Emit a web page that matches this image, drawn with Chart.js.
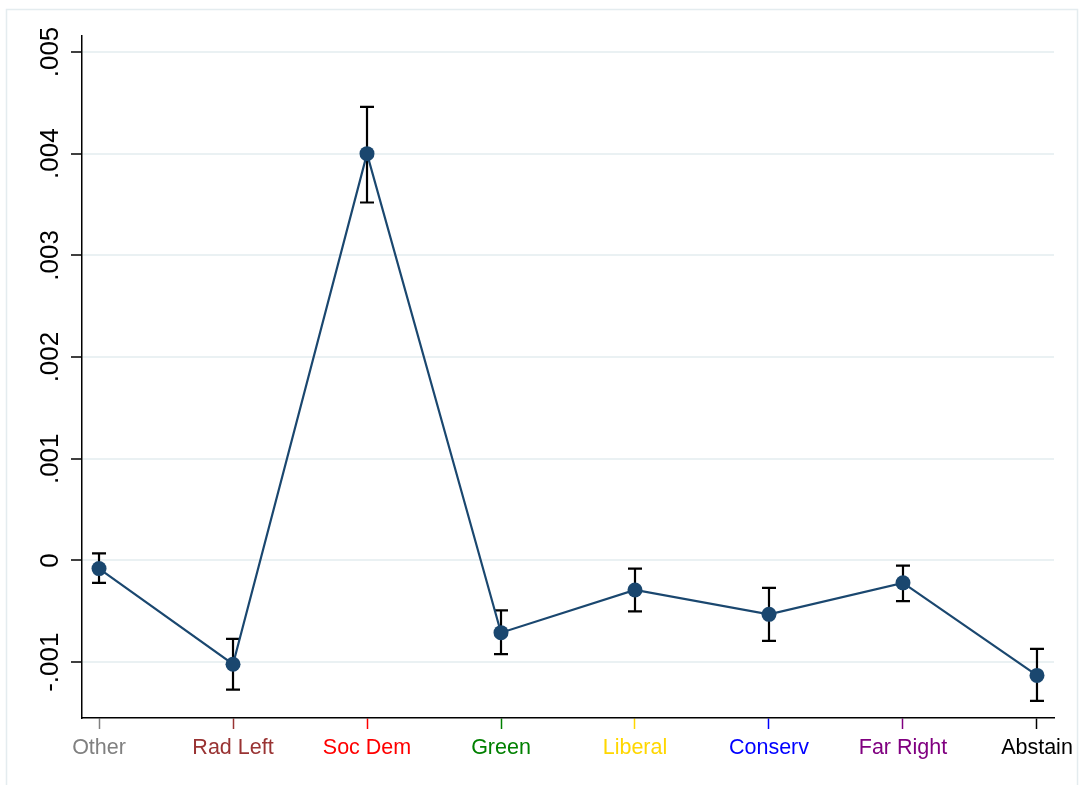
<!DOCTYPE html>
<html>
<head>
<meta charset="utf-8">
<script src="https://cdn.jsdelivr.net/npm/chart.js@4.4.1/dist/chart.umd.min.js"></script>
<style>
  html, body { margin: 0; padding: 0; background: #ffffff; }
  #wrap { width: 1081px; height: 785px; position: relative; }
</style>
</head>
<body>
<div id="wrap"><canvas id="c" width="1081" height="785"></canvas></div>
<script>
// Party categories along the x axis and their label colours
const parties = ['Other', 'Rad Left', 'Soc Dem', 'Green', 'Liberal', 'Conserv', 'Far Right', 'Abstain'];
const partyColors = ['#808080', '#993333', '#ff0000', '#008000', '#ffd700', '#0000ff', '#800080', '#000000'];

// Point estimates with lower / upper confidence bounds
const estimate = [-0.00008, -0.00102, 0.00400, -0.00071, -0.00029, -0.00053, -0.00022, -0.00113];
const ciLow    = [-0.00022, -0.00127, 0.00352, -0.00092, -0.00050, -0.00079, -0.00040, -0.00138];
const ciHigh   = [ 0.00007, -0.00077, 0.00446, -0.00049, -0.00008, -0.00027, -0.00005, -0.00087];

// Y axis ticks and their labels
const yTickValues = [-0.001, 0, 0.001, 0.002, 0.003, 0.004, 0.005];
const yTickLabels = ['-.001', '0', '.001', '.002', '.003', '.004', '.005'];

const navy = '#1a476f';
const FONT = '"Liberation Sans", Arial, Helvetica, sans-serif';

// Outer graph-region frame
const framePlugin = {
  id: 'frame',
  beforeDraw(chart) {
    const ctx = chart.ctx;
    ctx.save();
    ctx.fillStyle = '#ffffff';
    ctx.fillRect(0, 0, chart.width, chart.height);
    ctx.strokeStyle = '#e4ecef';
    ctx.lineWidth = 1.5;
    ctx.strokeRect(6.5, 9.5, 1071, 800);
    ctx.restore();
  }
};

// Capped confidence-interval spikes
const errorBarPlugin = {
  id: 'errorBars',
  beforeDatasetsDraw(chart) {
    const ctx = chart.ctx;
    const xs = chart.scales.x, ys = chart.scales.y;
    const cap = 7;
    ctx.save();
    ctx.strokeStyle = '#000000';
    ctx.lineWidth = 2.2;
    ciLow.forEach((lo, i) => {
      const px = xs.getPixelForValue(i);
      const yLo = ys.getPixelForValue(lo);
      const yHi = ys.getPixelForValue(ciHigh[i]);
      ctx.beginPath();
      ctx.moveTo(px, yLo); ctx.lineTo(px, yHi);
      ctx.moveTo(px - cap, yLo); ctx.lineTo(px + cap, yLo);
      ctx.moveTo(px - cap, yHi); ctx.lineTo(px + cap, yHi);
      ctx.stroke();
    });
    ctx.restore();
  }
};

// Vertical (rotated) y tick labels
const yLabelPlugin = {
  id: 'yLabels',
  afterDraw(chart) {
    const ctx = chart.ctx;
    const ys = chart.scales.y;
    ctx.save();
    ctx.fillStyle = '#000000';
    ctx.font = '26px ' + FONT;
    ctx.textAlign = 'center';
    ctx.textBaseline = 'middle';
    yTickValues.forEach((v, i) => {
      const py = ys.getPixelForValue(v);
      ctx.save();
      ctx.translate(51, py);
      ctx.rotate(-Math.PI / 2);
      ctx.fillText(yTickLabels[i], 0, 0);
      ctx.restore();
    });
    ctx.restore();
  }
};

new Chart(document.getElementById('c'), {
  type: 'line',
  data: {
    datasets: [{
      data: estimate.map((v, i) => ({ x: i, y: v })),
      borderColor: navy,
      backgroundColor: navy,
      borderWidth: 2.2,
      pointRadius: 7.5,
      pointHoverRadius: 7.5,
      pointBackgroundColor: navy,
      pointBorderWidth: 0,
      tension: 0,
      fill: false
    }]
  },
  options: {
    responsive: false,
    animation: false,
    devicePixelRatio: 1,
    layout: { padding: { left: 0, top: 36, right: 27, bottom: 0 } },
    plugins: { legend: { display: false }, tooltip: { enabled: false } },
    scales: {
      x: {
        type: 'linear',
        min: -0.127,
        max: 7.127,
        afterBuildTicks(scale) { scale.ticks = parties.map((_, i) => ({ value: i })); },
        afterFit(scale) { scale.height = 67; },
        border: { display: true, color: '#000000', width: 1.5 },
        grid: {
          drawOnChartArea: false,
          drawTicks: true,
          tickLength: 11,
          tickWidth: 1.5,
          tickColor: (c) => partyColors[c.index] || '#000'
        },
        ticks: {
          autoSkip: false,
          maxRotation: 0,
          minRotation: 0,
          padding: 6,
          font: { family: FONT, size: 21.5 },
          color: (c) => partyColors[c.index] || '#000',
          callback: (v) => parties[v]
        }
      },
      y: {
        type: 'linear',
        min: -0.001549,
        max: 0.005157,
        afterBuildTicks(scale) { scale.ticks = yTickValues.map(v => ({ value: v })); },
        afterFit(scale) { scale.width = 82; },
        border: { display: true, color: '#000000', width: 1.5 },
        grid: {
          color: '#eaf1f3',
          lineWidth: 2,
          drawTicks: true,
          tickLength: 11,
          tickWidth: 1.5,
          tickColor: '#000000'
        },
        ticks: { display: false }
      }
    }
  },
  plugins: [framePlugin, errorBarPlugin, yLabelPlugin]
});
</script>
</body>
</html>
